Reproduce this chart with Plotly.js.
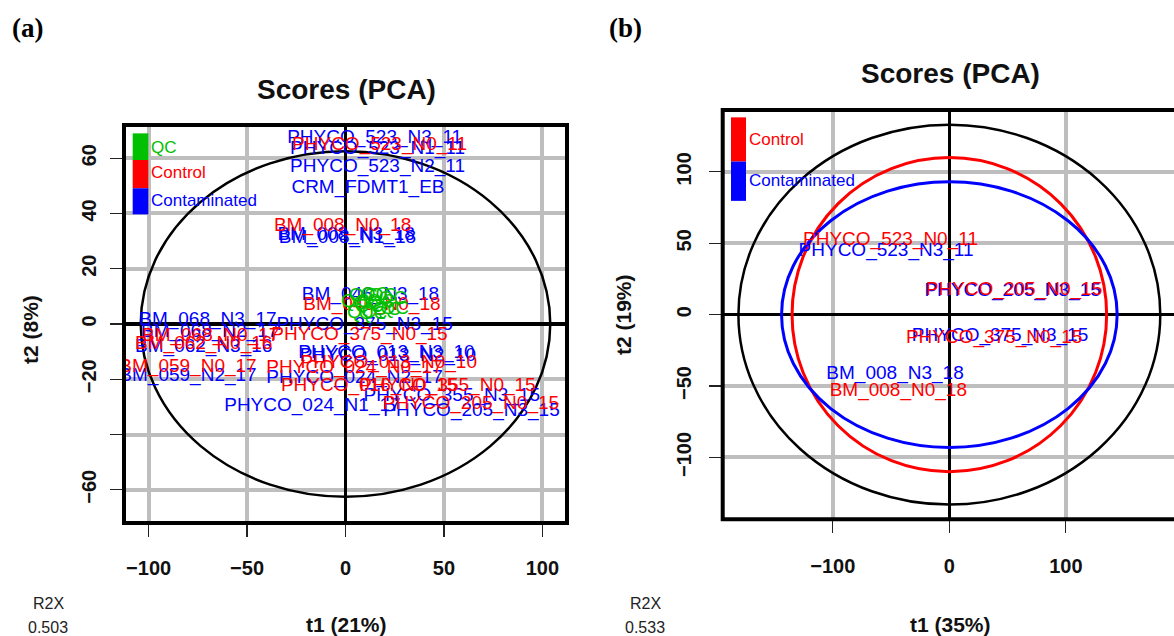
<!DOCTYPE html>
<html>
<head>
<meta charset="utf-8">
<script src="https://cdn.plot.ly/plotly-3.0.1.min.js"></script>
<style>
  html, body { margin: 0; padding: 0; overflow: hidden; background: #fff; }
  #chart { width: 1180px; height: 636px; }
</style>
</head>
<body>
<div id="chart"></div>
<script>
// ---------------- DATA ----------------
// Panel (a): PCA scores, labels drawn as text
const aControlLabels = ["PHYCO_523_N0_11","BM_008_N0_18","BM_046_N0_18","PHYCO_375_N0_15","BM_068_N0_17","BM_062_N0_16","BM_059_N0_17","PHYCO_024_N0_17","PHYCO_013_N0_10","PHYCO_016_N0_15","PHYCO_355_N0_15","PHYCO_205_N0_15"];
const aControlT1 = [17.3, -1.5, 13.4, 7.1, -68.5, -72, -80, 4.6, 22, 12, 51.8, 63.7];
const aControlT2 = [64.6, 35.4, 6.9, -4, -4.6, -7.5, -15.5, -16, -14.2, -22.7, -22.6, -29.2];

const aContamLabels = ["PHYCO_523_N3_11","PHYCO_523_N1_11","PHYCO_523_N2_11","CRM_FDMT1_EB","BM_008_N3_18","BM_008_N1_18","BM_046_N3_18","BM_068_N3_17","PHYCO_375_N3_15","BM_068_N2_17","BM_062_N3_16","BM_059_N2_17","PHYCO_024_N2_17","PHYCO_013_N3_10","PHYCO_013_N2_10","PHYCO_355_N3_15","PHYCO_024_N1_17","PHYCO_205_N3_15"];
const aContamT1 = [14.8, 16.3, 16.3, 11.4, 0.3, 1.0, 12.7, -69.9, 9.7, -69, -72, -80, 4.6, 20.8, 21.5, 54, -16.8, 64];
const aContamT2 = [67.1, 63.2, 56.8, 49, 32.1, 31.0, 10.5, 1.4, -0.4, -3, -8.5, -19, -19.5, -10.6, -11.8, -26, -29.9, -31.7];

const aQCLabels = ["QC","QC","QC","QC","QC","QC","QC","QC","QC","QC","QC","QC"];
const aQCT1 = [5, 9, 12, 15, 18, 21, 24, 8, 14, 19, 25, 11];
const aQCT2 = [8, 10, 6, 10.5, 8, 5, 9, 4, 3.5, 10, 5.5, 7];

// Panel (b)
const bControlLabels = ["PHYCO_523_N0_11","PHYCO_205_N0_15","PHYCO_375_N0_15","BM_008_N0_18"];
const bControlT1 = [-50.5, 55.5, 38.4, -43.8];
const bControlT2 = [52.4, 17.2, -16.5, -53.3];
const bContamLabels = ["PHYCO_523_N3_11","PHYCO_205_N3_15","PHYCO_375_N3_15","BM_008_N3_18"];
const bContamT1 = [-54.3, 54.3, 43.5, -46.6];
const bContamT2 = [44.7, 16.2, -14.8, -41.7];

// Hotelling ellipse semi-axes [t1, t2]
const aEllipse = [104, 62.5];
const bEllipseAll = [181, 133];
const bEllipseControl = [135, 110];
const bEllipseContam = [144, 93];

// Axis ticks
const aXTicks = [-100, -50, 0, 50, 100];
const aXTickText = ["\u2212100", "\u221250", "0", "50", "100"];
const aYTicks = [-60, -40, -20, 0, 20, 40, 60];
const aYTickText = ["\u221260", "", "\u221220", "0", "20", "40", "60"];
const bXTicks = [-100, 0, 100];
const bXTickText = ["\u2212100", "0", "100"];
const bYTicks = [-100, -50, 0, 50, 100];
const bYTickText = ["\u2212100", "\u221250", "0", "50", "100"];

// ---------------- LAYOUT ----------------
const W = 1180, H = 636;
const px = v => v / W;
const py = v => 1 - v / H;
const RED = "#ff0000", BLUE = "#0000ff", GREEN = "#00c000";
const FONT = "Liberation Sans, Arial, sans-serif";
const labelSize = 19;

function textTrace(x, y, text, color, xa, ya) {
  return {
    type: "scatter", mode: "text", x: x, y: y, text: text,
    textposition: "middle center",
    textfont: { family: FONT, size: labelSize, color: color },
    xaxis: xa, yaxis: ya, hoverinfo: "skip", showlegend: false, cliponaxis: true
  };
}

const traces = [
  textTrace(aContamT1, aContamT2, aContamLabels, BLUE, "x", "y"),
  textTrace(aControlT1, aControlT2, aControlLabels, RED, "x", "y"),
  textTrace(aQCT1, aQCT2, aQCLabels, GREEN, "x", "y"),
  textTrace(bContamT1, bContamT2, bContamLabels, BLUE, "x2", "y2"),
  textTrace(bControlT1, bControlT2, bControlLabels, RED, "x2", "y2")
];

function axisBase() {
  return {
    showgrid: true, gridcolor: "#bebebe", gridwidth: 4,
    zeroline: true, zerolinecolor: "#000", zerolinewidth: 3.5,
    showline: false, ticks: "outside", ticklen: 13, tickwidth: 1.2, tickcolor: "#222",
    tickfont: { family: FONT, size: 20, color: "#111", weight: "bold" },
    tickmode: "array", fixedrange: true
  };
}

const xaxis = Object.assign(axisBase(), {
  domain: [px(124), px(567)], range: [-112.5, 112.5], anchor: "y",
  tickvals: aXTicks, ticktext: aXTickText, ticklabelstandoff: 14
});
const yaxis = Object.assign(axisBase(), {
  domain: [py(523), py(125)], range: [-72, 72], anchor: "x",
  tickvals: aYTicks, ticktext: aYTickText, tickangle: -90, ticklabelstandoff: 6
});
const xaxis2 = Object.assign(axisBase(), {
  domain: [px(722.7), px(1176)], range: [-194.5, 194.5], anchor: "y2",
  tickvals: bXTicks, ticktext: bXTickText, ticklabelstandoff: 16
});
const yaxis2 = Object.assign(axisBase(), {
  domain: [py(519.3), py(110)], range: [-143.3, 143.3], anchor: "x2",
  tickvals: bYTicks, ticktext: bYTickText, tickangle: -90, ticklabelstandoff: 10
});

function ellipse(xa, ya, ax, color, width) {
  return { type: "circle", xref: xa, yref: ya, x0: -ax[0], x1: ax[0], y0: -ax[1], y1: ax[1],
           line: { color: color, width: width }, layer: "between" };
}
function frame(xa, ya) {
  return { type: "rect", xref: xa + " domain", yref: ya + " domain", x0: 0, x1: 1, y0: 0, y1: 1,
           line: { color: "#000", width: 4 }, layer: "above" };
}
function box(xa, ya, x0, x1, y0, y1, color) {
  return { type: "rect", xref: xa + " domain", yref: ya + " domain", x0: x0, x1: x1, y0: y0, y1: y1,
           fillcolor: color, line: { width: 0 }, layer: "above" };
}

const shapes = [
  ellipse("x", "y", aEllipse, "#000", 2.5),
  ellipse("x2", "y2", bEllipseAll, "#000", 2.5),
  ellipse("x2", "y2", bEllipseControl, RED, 3),
  ellipse("x2", "y2", bEllipseContam, BLUE, 3),
  frame("x", "y"), frame("x2", "y2"),
  // legend swatches panel a
  box("x", "y", 0.0196, 0.0549, 0.912, 0.979, GREEN),
  box("x", "y", 0.0196, 0.0549, 0.841, 0.912, RED),
  box("x", "y", 0.0196, 0.0549, 0.7756, 0.841, BLUE),
  // legend swatches panel b
  box("x2", "y2", 0.0183, 0.0514, 0.874, 0.982, RED),
  box("x2", "y2", 0.0183, 0.0514, 0.778, 0.874, BLUE)
];

function ann(text, x, y, font, extra) {
  return Object.assign({ text: text, xref: "paper", yref: "paper", x: px(x), y: py(y),
    xanchor: "center", yanchor: "middle", showarrow: false, font: font }, extra || {});
}
const boldF = s => ({ family: FONT, size: s, color: "#111", weight: "bold" });
const regF = (s, c) => ({ family: FONT, size: s, color: c || "#222" });

const annotations = [
  ann("(a)", 27, 28, { family: "Liberation Serif, Times New Roman, serif", size: 27, color: "#000", weight: "bold" }),
  ann("(b)", 625, 28, { family: "Liberation Serif, Times New Roman, serif", size: 27, color: "#000", weight: "bold" }),
  ann("Scores (PCA)", 346, 90, boldF(28)),
  ann("Scores (PCA)", 950, 73, boldF(28)),
  ann("t1 (21%)", 346, 624, boldF(21)),
  ann("t1 (35%)", 950, 624, boldF(21)),
  ann("t2 (8%)", 30, 330, boldF(21), { textangle: -90 }),
  ann("t2 (19%)", 624, 315, boldF(21), { textangle: -90 }),
  ann("R2X", 48, 603, regF(16)),
  ann("0.503", 48, 627, regF(16)),
  ann("R2X", 645, 603, regF(16)),
  ann("0.533", 645, 627, regF(16)),
  // legend texts
  Object.assign(ann("QC", 0, 0, regF(17, GREEN)), { xref: "x domain", yref: "y domain", x: 0.056, y: 0.943, xanchor: "left" }),
  Object.assign(ann("Control", 0, 0, regF(17, RED)), { xref: "x domain", yref: "y domain", x: 0.056, y: 0.880, xanchor: "left" }),
  Object.assign(ann("Contaminated", 0, 0, regF(17, BLUE)), { xref: "x domain", yref: "y domain", x: 0.056, y: 0.811, xanchor: "left" }),
  Object.assign(ann("Control", 0, 0, regF(17, RED)), { xref: "x2 domain", yref: "y2 domain", x: 0.053, y: 0.929, xanchor: "left" }),
  Object.assign(ann("Contaminated", 0, 0, regF(17, BLUE)), { xref: "x2 domain", yref: "y2 domain", x: 0.053, y: 0.827, xanchor: "left" })
];

const layout = {
  width: W, height: H,
  margin: { l: 0, r: 0, t: 0, b: 0, pad: 0 },
  paper_bgcolor: "#fff", plot_bgcolor: "#fff",
  showlegend: false,
  xaxis: xaxis, yaxis: yaxis, xaxis2: xaxis2, yaxis2: yaxis2,
  shapes: shapes, annotations: annotations
};

Plotly.newPlot("chart", traces, layout, { staticPlot: true, displayModeBar: false });
</script>
</body>
</html>
